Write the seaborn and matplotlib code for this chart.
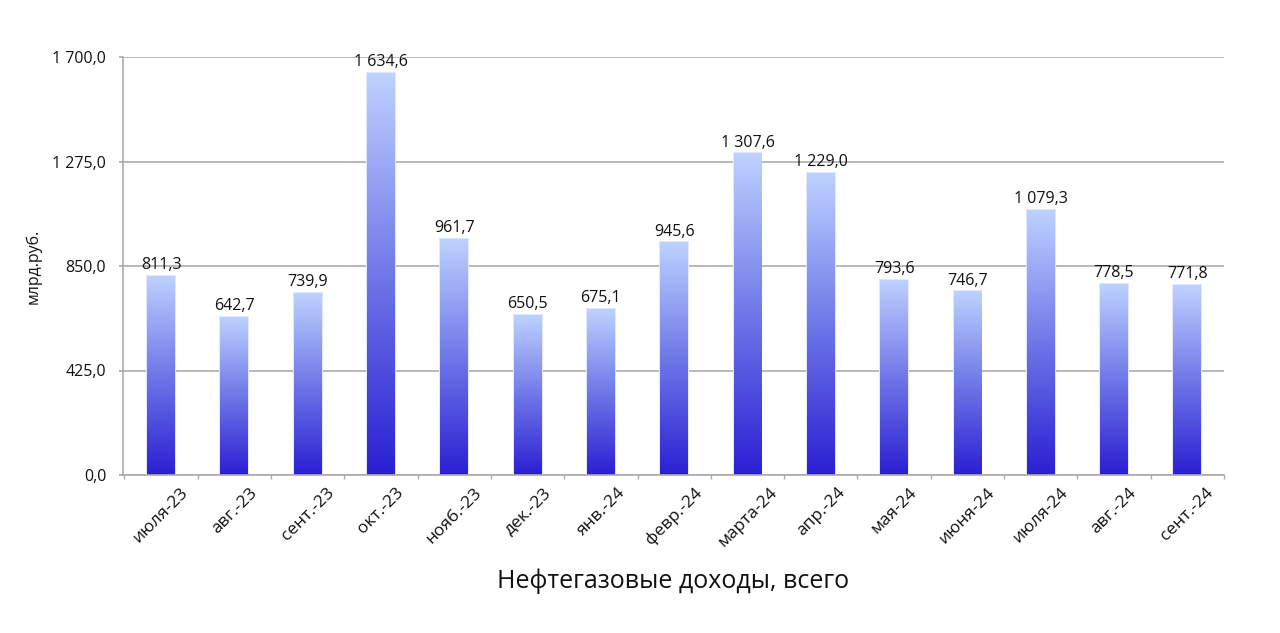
import numpy as np
import pandas as pd
import matplotlib
matplotlib.use("Agg")
import matplotlib.pyplot as plt
import seaborn as sns
from matplotlib.colors import LinearSegmentedColormap

months = ["июля-23", "авг.-23", "сент.-23", "окт.-23", "нояб.-23", "дек.-23",
          "янв.-24", "февр.-24", "марта-24", "апр.-24", "мая-24", "июня-24",
          "июля-24", "авг.-24", "сент.-24"]
values = [811.3, 642.7, 739.9, 1634.6, 961.7, 650.5, 675.1, 945.6,
          1307.6, 1229.0, 793.6, 746.7, 1079.3, 778.5, 771.8]
y_ticks = [0, 425, 850, 1275, 1700]
title = "Нефтегазовые доходы, всего"
y_label = "млрд.руб."


def fmt(v):
    s = f"{v:,.1f}"
    return s.replace(",", " ").replace(".", ",")


df = pd.DataFrame({"month": months, "value": values})

sns.set_theme(style="white")
plt.rcParams["font.family"] = ["Open Sans", "DejaVu Sans"]

fig = plt.figure(figsize=(12.8, 6.33), dpi=100)
ax = fig.add_axes([123 / 1280, 1 - 475 / 633, (1224 - 123) / 1280, (475 - 57) / 633])

sns.barplot(data=df, x="month", y="value", ax=ax, width=0.38, color="#6f7ae8",
            errorbar=None, zorder=2)

cmap = LinearSegmentedColormap.from_list("g", ["#2b1fd3", "#6f78e8", "#bed2ff"])
grad = np.linspace(0, 1, 256).reshape(-1, 1)
for p in ax.patches:
    x, y = p.get_x(), p.get_y()
    w, h = p.get_width(), p.get_height()
    p.set_facecolor("none")
    p.set_edgecolor("#e2e8fb")
    p.set_linewidth(1.5)
    im = ax.imshow(grad, extent=[x, x + w, y, y + h], origin="lower",
                   aspect="auto", cmap=cmap, zorder=2.5, interpolation="bicubic")
    im.set_clip_path(p)

ax.bar_label(ax.containers[0], labels=[fmt(v) for v in values], padding=2,
             fontsize=11.5, color="#111111")

ax.set_xlim(-0.52, len(months) - 0.5)
ax.set_ylim(0, 1700)
ax.set_yticks(y_ticks)
ax.set_yticklabels([fmt(v) for v in y_ticks], fontsize=11.5, color="#111111")
ax.grid(axis="y", color="#ababab", linewidth=1.2, zorder=0)
ax.set_axisbelow(True)

for s in ["top", "right"]:
    ax.spines[s].set_visible(False)
for s in ["left", "bottom"]:
    ax.spines[s].set_color("#ababab")
    ax.spines[s].set_linewidth(1.2)

ax.tick_params(axis="y", which="major", length=3, color="#ababab", pad=9, left=True)
ax.tick_params(axis="x", which="major", length=0, pad=7)
ax.set_xticks(np.arange(-0.5, len(months), 1), minor=True)
ax.tick_params(axis="x", which="minor", length=3, color="#ababab", bottom=True)
plt.setp(ax.get_xticklabels(), rotation=45, ha="center", fontsize=12.5, color="#111111")

ax.set_xlabel("")
ax.set_ylabel(y_label, fontsize=11.5, color="#111111", labelpad=8)

fig.text(673.5 / 1280, 1 - 581 / 633, title, ha="center", va="center",
         fontsize=18, color="#111111")

fig.savefig("out.png", dpi=100, facecolor="white")
